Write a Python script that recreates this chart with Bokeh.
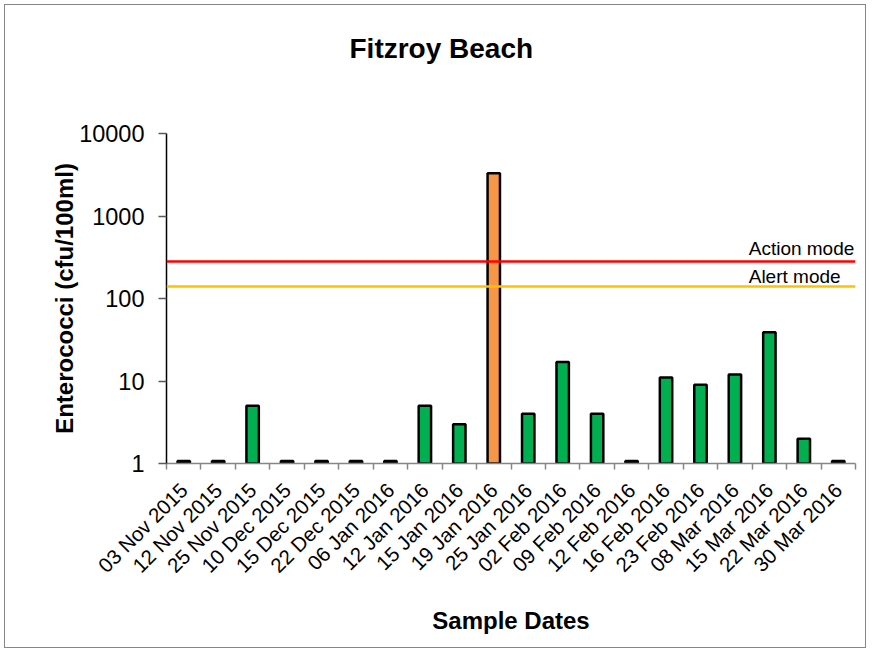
import math
from bokeh.plotting import figure
from bokeh.models import FixedTicker, Span, Label, Range1d, ColumnDataSource, Title
from bokeh.embed import file_html
from bokeh.resources import INLINE

# ---- data ----
title_text = "Fitzroy Beach"
dates = ["03 Nov 2015", "12 Nov 2015", "25 Nov 2015", "10 Dec 2015", "15 Dec 2015",
         "22 Dec 2015", "06 Jan 2016", "12 Jan 2016", "15 Jan 2016", "19 Jan 2016",
         "25 Jan 2016", "02 Feb 2016", "09 Feb 2016", "12 Feb 2016", "16 Feb 2016",
         "23 Feb 2016", "08 Mar 2016", "15 Mar 2016", "22 Mar 2016", "30 Mar 2016"]
enterococci = [1.07, 1.07, 5, 1.07, 1.07, 1.07, 1.07, 5, 3, 3300,
               4, 17, 4, 1.07, 11, 9, 12, 39, 2, 1.07]
alert_level = 140
action_level = 280
y_ticks = [1, 10, 100, 1000, 10000]
y_tick_labels = ["1", "10", "100", "1000", "10000"]

GREEN = "#00B050"
ORANGE = "#F79646"
FONT = "Liberation Sans"

n = len(dates)
centers = [i + 0.5 for i in range(n)]
bounds = [float(i) for i in range(n + 1)]
colors = [ORANGE if v > alert_level else GREEN for v in enterococci]

src = ColumnDataSource(dict(x=centers, top=enterococci, color=colors,
                            bottom=[y_ticks[0]] * n))

p = figure(frame_width=689, frame_height=330,
           x_range=Range1d(0, n), y_range=Range1d(y_ticks[0], y_ticks[-1]),
           y_axis_type="log", output_backend="svg", toolbar_location=None,
           min_border_left=161, min_border_right=10, min_border_top=128,
           min_border_bottom=184, margin=(5, 0, 0, 5))
p.outline_line_color = None
p.background_fill_color = "white"
p.border_fill_color = "white"
p.styles = {"outline": "1px solid #868686", "outline-offset": "0px"}
p.xgrid.visible = False
p.ygrid.visible = False
p.title.visible = False

# spacer between frame and title (nearest the frame), then the title itself
p.add_layout(Title(text=" ", text_font_size="1px", text_color="white", standoff=67), "above")
p.add_layout(Title(text=title_text, align="left", offset=183, standoff=0,
                   text_font=FONT, text_font_size="28px", text_font_style="bold",
                   text_color="black"), "above")

p.vbar(x="x", width=0.36, bottom="bottom", top="top", source=src,
       fill_color="color", line_color="black", line_width=2.5)

p.add_layout(Span(location=action_level, dimension="width",
                  line_color="#FF0000", line_width=2.5))
p.add_layout(Span(location=alert_level, dimension="width",
                  line_color="#FFC000", line_width=2.5))
p.add_layout(Label(x=16.9, y=action_level, text="Action mode", y_offset=13,
                   text_align="left", text_baseline="alphabetic",
                   text_font=FONT, text_font_size="19px", text_color="black"))
p.add_layout(Label(x=16.9, y=alert_level, text="Alert mode", y_offset=10,
                   text_align="left", text_baseline="alphabetic",
                   text_font=FONT, text_font_size="19px", text_color="black"))

# x axis
xa = p.xaxis[0]
xa.ticker = FixedTicker(ticks=centers, minor_ticks=bounds)
xa.major_label_overrides = {c: d for c, d in zip(centers, dates)}
xa.major_label_orientation = math.pi / 4
xa.major_tick_out = 0
xa.major_tick_in = 0
xa.minor_tick_out = 6
xa.minor_tick_in = 0
xa.minor_tick_line_color = "#868686"
xa.minor_tick_line_width = 1.5
xa.axis_line_color = "#868686"
xa.axis_line_width = 1.5
xa.major_label_standoff = 17
xa.major_label_text_font = FONT
xa.major_label_text_font_size = "20.5px"
xa.major_label_text_color = "black"
xa.axis_label = "Sample Dates"
xa.axis_label_text_font = FONT
xa.axis_label_text_font_size = "24px"
xa.axis_label_text_font_style = "bold"
xa.axis_label_text_color = "black"
xa.axis_label_standoff = 19

# y axis
ya = p.yaxis[0]
ya.ticker = FixedTicker(ticks=y_ticks, minor_ticks=[])
ya.major_label_overrides = {t: s for t, s in zip(y_ticks, y_tick_labels)}
ya.major_tick_out = 8
ya.major_tick_in = 0
ya.major_tick_line_color = "#595959"
ya.major_tick_line_width = 1.5
ya.minor_tick_out = 0
ya.minor_tick_in = 0
ya.axis_line_color = "black"
ya.axis_line_width = 1.5
ya.major_label_standoff = 14
ya.major_label_text_font = FONT
ya.major_label_text_font_size = "23.5px"
ya.major_label_text_color = "black"
ya.axis_label = "Enterococci (cfu/100ml)"
ya.axis_label_text_font = FONT
ya.axis_label_text_font_size = "24px"
ya.axis_label_text_font_style = "bold"
ya.axis_label_text_color = "black"
ya.axis_label_standoff = -2

open("out.html", "w").write(file_html(p, INLINE))
